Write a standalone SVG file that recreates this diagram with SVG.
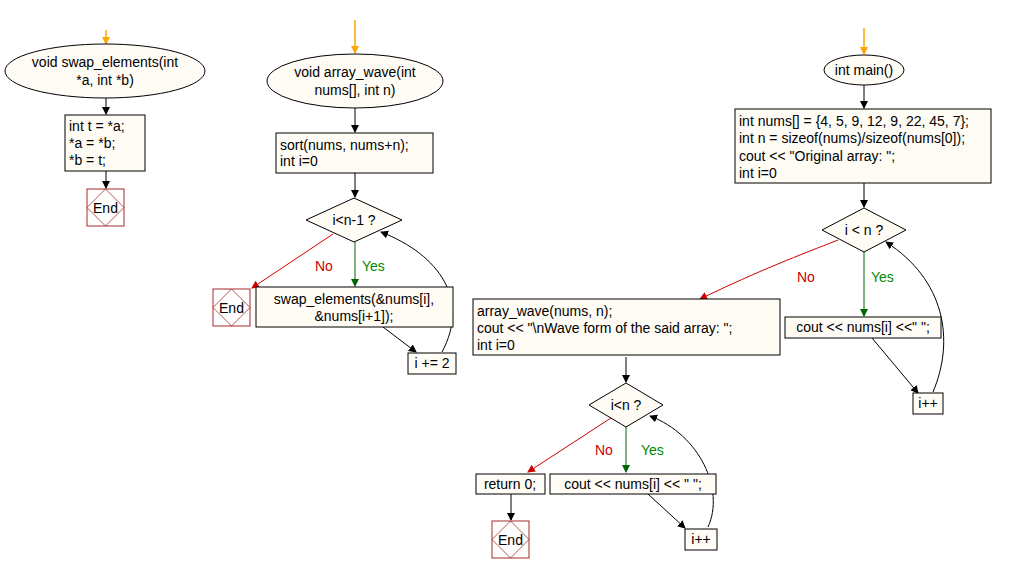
<svg xmlns="http://www.w3.org/2000/svg" width="1015" height="574" viewBox="0 0 1015 574">
<style>
.n{fill:#fffcf6;stroke:#000;stroke-width:1}
.e{fill:#fff;stroke:#a52a2a;stroke-width:1}
.ei{fill:none;stroke:#a52a2a;stroke-width:0.8}
text{font-family:"Liberation Sans",Arial,sans-serif;font-size:14px;fill:#000}
.c{stroke:#000;fill:none;stroke-width:1}
.o{stroke:#ffa500;fill:none;stroke-width:1.5}
.r{stroke:#c00;fill:none;stroke-width:1}
.g{stroke:#060;fill:none;stroke-width:1}
.lr{fill:#c00}.lg{fill:#080}
</style>
<defs>
<marker id="ab" markerWidth="8" markerHeight="10" refX="7" refY="5" orient="auto" markerUnits="userSpaceOnUse" viewBox="0 0 8 10"><path d="M0,1 L8,5 L0,9 z" fill="#000"/></marker>
<marker id="ao" markerWidth="8" markerHeight="10" refX="7" refY="5" orient="auto" markerUnits="userSpaceOnUse" viewBox="0 0 8 10"><path d="M0,1 L8,5 L0,9 z" fill="#ffa500"/></marker>
<marker id="ar" markerWidth="8" markerHeight="10" refX="7" refY="5" orient="auto" markerUnits="userSpaceOnUse" viewBox="0 0 8 10"><path d="M0,1 L8,5 L0,9 z" fill="#c00"/></marker>
<marker id="ag" markerWidth="8" markerHeight="10" refX="7" refY="5" orient="auto" markerUnits="userSpaceOnUse" viewBox="0 0 8 10"><path d="M0,1 L8,5 L0,9 z" fill="#060"/></marker>
</defs>
<rect width="1015" height="574" fill="#fff"/>
<g id="connectors">
<path class="o" d="M106,30 V44" marker-end="url(#ao)"/>
<path class="c" d="M106,98 V114" marker-end="url(#ab)"/>
<path class="c" d="M106,171 V188" marker-end="url(#ab)"/>
<path class="o" d="M355,20 V53" marker-end="url(#ao)"/>
<path class="c" d="M355,108 V132" marker-end="url(#ab)"/>
<path class="c" d="M355,173 V197" marker-end="url(#ab)"/>
<path class="g" d="M355,242 V286" marker-end="url(#ag)"/>
<path class="r" d="M333,234 L252,288" marker-end="url(#ar)"/>
<path class="c" d="M383,327 L416,352" marker-end="url(#ab)"/>
<path class="c" d="M442,352 C470,300 440,255 381,232" marker-end="url(#ab)"/>
<text x="315" y="271" class="lr">No</text>
<text x="362" y="271" class="lg">Yes</text>
<path class="o" d="M864,28 V54" marker-end="url(#ao)"/>
<path class="c" d="M864,85 V108" marker-end="url(#ab)"/>
<path class="c" d="M864,183 V207" marker-end="url(#ab)"/>
<path class="g" d="M864,252 V316" marker-end="url(#ag)"/>
<path class="r" d="M838,240 C800,255 760,270 700,299" marker-end="url(#ar)"/>
<path class="c" d="M872,338 L918,393" marker-end="url(#ab)"/>
<path class="c" d="M933,392 C955,340 945,280 886,242" marker-end="url(#ab)"/>
<text x="797" y="282" class="lr">No</text>
<text x="871" y="282" class="lg">Yes</text>
<path class="c" d="M626,357 V382" marker-end="url(#ab)"/>
<path class="g" d="M626,427 V472" marker-end="url(#ag)"/>
<path class="r" d="M614,416 L528,472" marker-end="url(#ar)"/>
<path class="c" d="M648,494 L685,528" marker-end="url(#ab)"/>
<path class="c" d="M708,527 C725,490 700,435 650,416" marker-end="url(#ab)"/>
<path class="c" d="M511,494 V520" marker-end="url(#ab)"/>
<text x="595" y="455" class="lr">No</text>
<text x="641" y="455" class="lg">Yes</text>
</g>
<g id="swap_start"><ellipse class="n" cx="105" cy="71" rx="100" ry="27"/><text x="105" y="67" text-anchor="middle">void swap_elements(int</text><text x="105" y="85" text-anchor="middle">*a, int *b)</text></g>
<g id="swap_body"><rect class="n" x="65" y="115" width="80" height="56"/><text x="69" y="131">int t = *a;</text><text x="69" y="148">*a = *b;</text><text x="69" y="165">*b = t;</text></g>
<g id="swap_end"><rect class="e" x="87" y="189" width="37" height="37"/><path class="ei" d="M105.5,189 L124,207.5 L105.5,226 L87,207.5 Z"/><text x="105.5" y="213" text-anchor="middle">End</text></g>
<g id="wave_start"><ellipse class="n" cx="355" cy="81" rx="88" ry="27"/><text x="355" y="77" text-anchor="middle">void array_wave(int</text><text x="355" y="95" text-anchor="middle">nums[], int n)</text></g>
<g id="wave_sort"><rect class="n" x="276" y="133" width="157" height="40"/><text x="280" y="150">sort(nums, nums+n);</text><text x="280" y="166">int i=0</text></g>
<g id="wave_cond"><path class="n" d="M354,198 L402,220 L354,242 L306,220 Z"/><text x="354" y="225" text-anchor="middle">i&lt;n-1 ?</text></g>
<g id="wave_swap"><rect class="n" x="256" y="287" width="197" height="40"/><text x="354" y="304" text-anchor="middle">swap_elements(&amp;nums[i],</text><text x="354" y="321" text-anchor="middle">&amp;nums[i+1]);</text></g>
<g id="wave_end"><rect class="e" x="213" y="289" width="37" height="37"/><path class="ei" d="M231.5,289 L250,307.5 L231.5,326 L213,307.5 Z"/><text x="231.5" y="313" text-anchor="middle">End</text></g>
<g id="wave_inc"><rect class="n" x="408" y="353" width="48" height="21"/><text x="432" y="368" text-anchor="middle">i += 2</text></g>
<g id="main_start"><ellipse class="n" cx="864" cy="70" rx="40" ry="15"/><text x="864" y="75" text-anchor="middle">int main()</text></g>
<g id="main_init"><rect class="n" x="735" y="109" width="256" height="74"/><text x="739" y="126">int nums[] = {4, 5, 9, 12, 9, 22, 45, 7};</text><text x="739" y="143">int n = sizeof(nums)/sizeof(nums[0]);</text><text x="739" y="161">cout &lt;&lt; "Original array: ";</text><text x="739" y="178">int i=0</text></g>
<g id="main_cond1"><path class="n" d="M864,208 L906,230 L864,252 L822,230 Z"/><text x="864" y="235" text-anchor="middle">i &lt; n ?</text></g>
<g id="main_cout1"><rect class="n" x="785" y="317" width="156" height="21"/><text x="863" y="332" text-anchor="middle">cout &lt;&lt; nums[i] &lt;&lt;" ";</text></g>
<g id="main_inc1"><rect class="n" x="913" y="393" width="30" height="21"/><text x="928" y="408" text-anchor="middle">i++</text></g>
<g id="main_wave"><rect class="n" x="473" y="299" width="307" height="56"/><text x="477" y="316">array_wave(nums, n);</text><text x="477" y="333">cout &lt;&lt; "\nWave form of the said array: ";</text><text x="477" y="350">int i=0</text></g>
<g id="main_cond2"><path class="n" d="M626,383 L663,405 L626,427 L589,405 Z"/><text x="626" y="410" text-anchor="middle">i&lt;n ?</text></g>
<g id="main_ret"><rect class="n" x="476" y="474" width="69" height="20"/><text x="510" y="489" text-anchor="middle">return 0;</text></g>
<g id="main_cout2"><rect class="n" x="550" y="474" width="166" height="20"/><text x="633" y="489" text-anchor="middle">cout &lt;&lt; nums[i] &lt;&lt; " ";</text></g>
<g id="main_inc2"><rect class="n" x="685" y="529" width="32" height="21"/><text x="701" y="544" text-anchor="middle">i++</text></g>
<g id="main_end"><rect class="e" x="492" y="521" width="37" height="37"/><path class="ei" d="M510.5,521 L529,539.5 L510.5,558 L492,539.5 Z"/><text x="510.5" y="545" text-anchor="middle">End</text></g>
</svg>
